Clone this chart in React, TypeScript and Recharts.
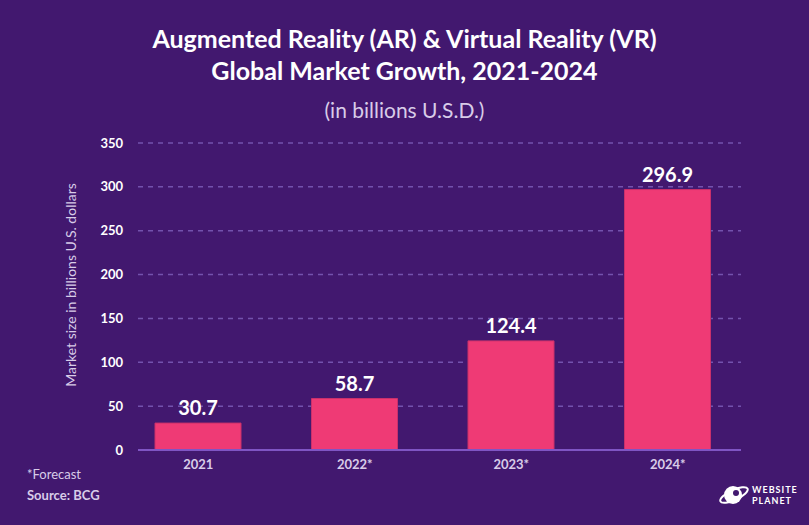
import { BarChart, Bar, XAxis, YAxis, CartesianGrid, LabelList } from "recharts"

const years = ['2021', '2022*', '2023*', '2024*']
const marketSize = [30.7, 58.7, 124.4, 296.9]
const yTicks = [0, 50, 100, 150, 200, 250, 300, 350]

const chartData = years.map((year, i) => ({ year, size: marketSize[i] }))

const bg = '#42186f'
const lavender = '#d8cce8'

function Logo() {
  return (
    <svg width={80} height={30} style={{ position: 'absolute', left: 718, top: 480 }}>
      <ellipse cx={16} cy={15} rx={15} ry={5} fill="none" stroke="#fff" strokeWidth={2} transform="rotate(-25 16 15)" />
      <circle cx={15} cy={15} r={9} fill="#fff" />
      <circle cx={18} cy={13} r={3} fill={bg} />
      <text x={34} y={13} fill="#fff" fontSize={9} fontWeight={700} fontFamily="Lato" letterSpacing={1}>WEBSITE</text>
      <text x={34} y={24} fill="#fff" fontSize={9} fontWeight={700} fontFamily="Lato" letterSpacing={1}>PLANET</text>
    </svg>
  )
}

export default function App() {
  return (
    <div style={{ position: 'absolute', left: 0, top: 0, width: 809, height: 525, background: bg, fontFamily: 'Lato', overflow: 'hidden' }}>
      <div style={{ position: 'absolute', left: 0, top: 22, width: 809, textAlign: 'center', color: '#fff', fontWeight: 700, fontSize: 25, lineHeight: '32px' }}>
        Augmented Reality (AR) &amp; Virtual Reality (VR)
        <br />
        Global Market Growth, 2021-2024
      </div>
      <div style={{ position: 'absolute', left: 0, top: 97, width: 809, textAlign: 'center', color: lavender, fontSize: 21 }}>
        (in billions U.S.D.)
      </div>
      <div style={{ position: 'absolute', left: 70, top: 285, width: 0, height: 0 }}>
        <div style={{ position: 'absolute', transform: 'translate(-50%, -50%) rotate(-90deg)', whiteSpace: 'nowrap', color: lavender, fontSize: 14 }}>
          Market size in billions U.S. dollars
        </div>
      </div>
      <BarChart
        width={809}
        height={525}
        data={chartData}
        margin={{ top: 143, right: 68, left: 78, bottom: 45 }}
        style={{ position: 'absolute', left: 0, top: 0 }}
      >
        <CartesianGrid vertical={false} stroke="#7352ad" strokeDasharray="5 5" strokeWidth={1.5} />
        <XAxis
          dataKey="year"
          height={30}
          padding={{ left: -18, right: -5 }}
          axisLine={{ stroke: '#7f55c4', strokeWidth: 2 }}
          tickLine={false}
          tickSize={0}
          tickMargin={10}
          tick={{ fill: lavender, fontSize: 13, fontWeight: 700 }}
        />
        <YAxis
          width={60}
          domain={[0, 350]}
          ticks={yTicks}
          axisLine={false}
          tickLine={false}
          tickSize={0}
          tickMargin={15}
          tick={{ fill: '#fff', fontSize: 13, fontWeight: 700 }}
        />
        <Bar dataKey="size" fill="#ef3a75" stroke="#c9306b" strokeWidth={1} barSize={86} isAnimationActive={false}>
          <LabelList dataKey="size" position="top" offset={8} fill="#fff" fontSize={20} fontWeight={700} />
        </Bar>
      </BarChart>
      <div style={{ position: 'absolute', left: 27, top: 466, color: lavender, fontSize: 13 }}>*Forecast</div>
      <div style={{ position: 'absolute', left: 27, top: 487, color: lavender, fontSize: 13, fontWeight: 700 }}>Source: BCG</div>
      <Logo />
    </div>
  )
}
